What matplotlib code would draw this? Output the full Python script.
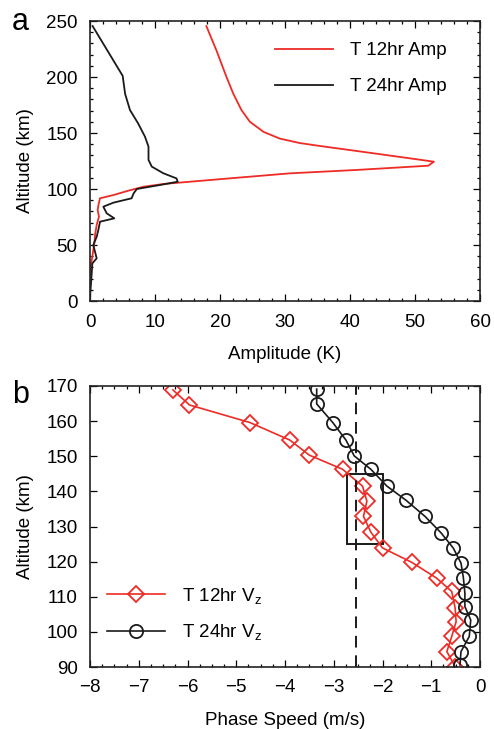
import matplotlib
matplotlib.use("Agg")
import matplotlib.pyplot as plt
from matplotlib.ticker import MultipleLocator
from matplotlib.patches import Rectangle

plt.rcParams['font.family'] = ['Liberation Sans', 'DejaVu Sans']
plt.rcParams['mathtext.fontset'] = 'custom'
plt.rcParams['mathtext.rm'] = 'Liberation Sans'
plt.rcParams['mathtext.it'] = 'Liberation Sans'

RED = '#ee2b25'
BLACK = '#1a1a1a'

# ---- Panel a data: amplitude profiles ----
alt_12hr = [0, 27.7, 39.6, 51.5, 60, 67.9, 75.3, 81.2, 85.7, 91.7, 94.6, 98.5, 102,
            104.5, 107, 109.5, 114, 117, 120.8, 124.4, 131.9, 138.4, 141, 145, 151,
            160, 170.5, 185, 200, 223, 245.5]
amp_12hr = [0, 0.0, 0.36, 0.66, 0.8, 1.03, 1.38, 1.18, 1.3, 1.54, 3.6, 5.9, 8.2,
            11.3, 16.4, 21.5, 30.8, 41, 52.05, 52.9, 43.6, 35.4, 32.3, 29.2, 26.7,
            24.6, 23.3, 22.05, 21.0, 19.5, 17.9]

alt_24hr = [0, 2.7, 24.7, 33.6, 38.1, 44, 50, 57.4, 63.4, 70.8, 73.8, 78.3, 84.2,
            87.8, 91.7, 96, 100, 103.6, 106.5, 109.5, 114, 120, 126, 137.8, 146.7,
            158.6, 170.5, 185, 201, 245.5]
amp_24hr = [0, 0, 0.26, 0.36, 1.03, 0.77, 0.51, 1.03, 1.28, 1.54, 3.74, 2.57, 2.05,
            3.6, 6.4, 6.7, 7.2, 10.8, 13.5, 13.3, 11.3, 9.5, 9.0, 9.0, 8.46,
            7.4, 6.15, 5.4, 5.03, 0.4]

# ---- Panel b data: vertical phase speeds ----
alt_vz12 = [90.1, 94.4, 98.7, 102.9, 106.8, 111.5, 115.3, 119.8, 123.9, 128.4,
            132.9, 137.2, 141.5, 146.3, 150.3, 154.6, 159.6, 164.6, 168.9]
vz_12hr = [-0.51, -0.68, -0.58, -0.49, -0.51, -0.58, -0.89, -1.40, -2.0, -2.24,
           -2.39, -2.32, -2.41, -2.82, -3.50, -3.90, -4.72, -5.96, -6.30]

alt_vz24 = [90.6, 94.4, 98.7, 103.4, 107.2, 111.0, 115.3, 119.6, 123.9, 128.2,
            132.9, 137.5, 141.5, 146.3, 150.1, 154.6, 159.6, 164.9, 169.1]
vz_24hr = [-0.41, -0.39, -0.22, -0.19, -0.31, -0.31, -0.34, -0.39, -0.55, -0.80,
           -1.13, -1.52, -1.91, -2.24, -2.58, -2.75, -3.02, -3.35, -3.35]

ref_speed = -2.54
box_x = [-2.72, -2.0]
box_y = [125, 145]

xticks_b = list(range(-8, 1))
xticklabels_b = ['\u22128', '\u22127', '\u22126', '\u22125', '\u22124', '\u22123',
                 '\u22122', '\u22121', '0']

fig = plt.figure(figsize=(4.94, 7.29), dpi=100)
ax1 = fig.add_axes([90/494, 1-301/729, 390/494, 280/729])
ax2 = fig.add_axes([90/494, 1-667/729, 390/494, 281/729])

FS = 13.5

def style(ax):
    ax.tick_params(which='both', direction='in', top=True, right=True,
                   labelsize=FS, width=0.9, pad=9)
    ax.tick_params(which='major', length=5)
    ax.tick_params(which='minor', length=2.5)
    for s in ax.spines.values():
        s.set_linewidth(1.2)
        s.set_color('#222222')

# Panel a
ax1.plot(amp_12hr, alt_12hr, color=RED, lw=1.3, label='T 12hr Amp')
ax1.plot(amp_24hr, alt_24hr, color=BLACK, lw=1.3, label='T 24hr Amp')
ax1.set_xlim(0, 60)
ax1.set_ylim(0, 250)
ax1.xaxis.set_major_locator(MultipleLocator(10))
ax1.xaxis.set_minor_locator(MultipleLocator(2))
ax1.yaxis.set_major_locator(MultipleLocator(50))
ax1.yaxis.set_minor_locator(MultipleLocator(10))
style(ax1)
ax1.set_xlabel('Amplitude (K)', fontsize=FS, labelpad=11)
ax1.set_ylabel('Altitude (km)', fontsize=FS, labelpad=9)
ax1.legend(loc='upper left', bbox_to_anchor=(0.43, 0.985), frameon=False,
           fontsize=FS, handlelength=3.1, handletextpad=0.9, labelspacing=1.0)

# Panel b
ax2.plot(vz_12hr, alt_vz12, color=RED, lw=1.2, marker='D', ms=8.5, mfc='none',
         mec=RED, mew=1.3, label=r'T 12hr V$_\mathrm{z}$')
ax2.plot(vz_24hr, alt_vz24, color=BLACK, lw=1.2, marker='o', ms=9.5, mfc='none',
         mec=BLACK, mew=1.3, label=r'T 24hr V$_\mathrm{z}$')
ax2.axvline(ref_speed, color=BLACK, lw=1.4, ls=(0, (6, 4)))
ax2.add_patch(Rectangle((box_x[0], box_y[0]), box_x[1]-box_x[0], box_y[1]-box_y[0],
                        fill=False, ec=BLACK, lw=1.4))
ax2.set_xlim(-8, 0)
ax2.set_ylim(90, 170)
ax2.set_xticks(xticks_b)
ax2.set_xticklabels(xticklabels_b)
ax2.xaxis.set_minor_locator(MultipleLocator(0.25))
ax2.yaxis.set_major_locator(MultipleLocator(10))
style(ax2)
ax2.set_xlabel('Phase Speed (m/s)', fontsize=FS, labelpad=11)
ax2.set_ylabel('Altitude (km)', fontsize=FS, labelpad=9)
ax2.legend(loc='upper left', bbox_to_anchor=(0.0, 0.35), frameon=False,
           fontsize=FS, handlelength=3.1, handletextpad=0.9, labelspacing=0.9)

fig.text(12/494, 1-30/729, 'a', fontsize=22)
fig.text(12/494, 1-403/729, 'b', fontsize=22)

fig.savefig('out.png', dpi=100)
